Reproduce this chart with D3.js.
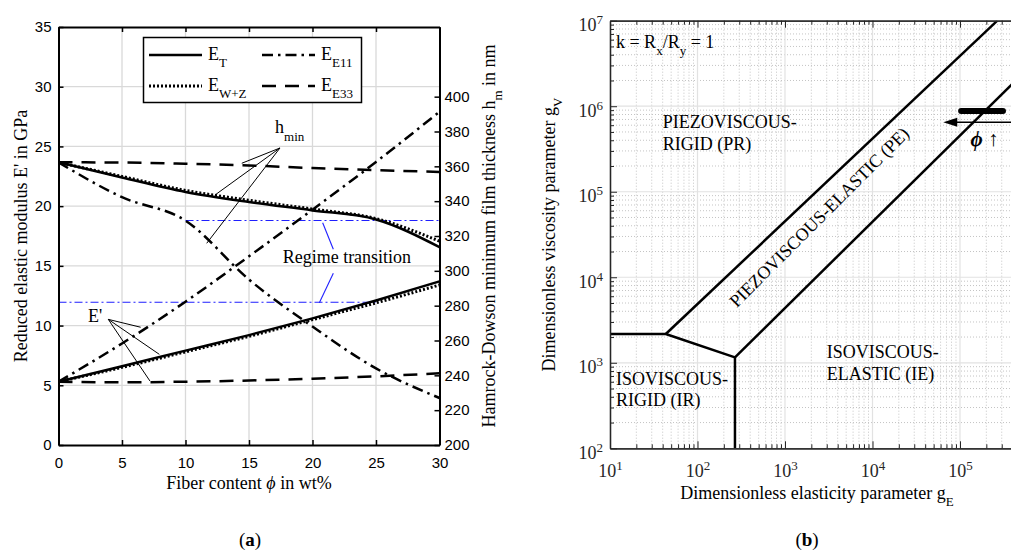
<!DOCTYPE html>
<html>
<head>
<meta charset="utf-8">
<script src="https://cdnjs.cloudflare.com/ajax/libs/d3/7.8.5/d3.min.js"></script>
<style>
  body { margin: 0; background: #fff; }
  svg { display: block; }
</style>
</head>
<body>
<div id="chart"></div>
<script>
// (a) film thickness / reduced modulus vs fiber content, (b) Hamrock-Dowson regime map
const W = 1011, H = 553;
const serif = '"Liberation Serif", "Times New Roman", serif';
const sans = '"Liberation Sans", Arial, sans-serif';

// ---- data (a) ----
const fiber = [0, 5, 10, 15, 20, 25, 30];            // wt%
// reduced elastic modulus E' in GPa (left axis)
const eT   = [5.3, 6.6, 7.9, 9.2, 10.6, 12.1, 13.7];
const eWZ  = [5.3, 6.5, 7.8, 9.1, 10.5, 11.9, 13.4];
const eE11 = [5.3, 8.5, 12.0, 15.8, 19.7, 23.7, 27.9];
const eE33 = [5.3, 5.25, 5.3, 5.4, 5.55, 5.75, 6.0];
// minimum film thickness h_min in nm (right axis)
const hT   = [362.3, 353.6, 345.3, 339.5, 334.7, 329.5, 313.6];
const hWZ  = [362.3, 354.2, 346.2, 340.5, 335.5, 330.0, 317.0];
const hE11 = [362.3, 342.3, 328.8, 295.0, 268.0, 244.0, 227.0];
const hE33 = [362.3, 362.2, 361.5, 360.5, 359.0, 357.8, 356.8];
// regime transition levels and the fiber range they span
const transE = 11.95, transERange = [0, 25];      // GPa
const transH = 328.9, transHRange = [10, 30];     // nm
const xTicksA = [0, 5, 10, 15, 20, 25, 30];
const yTicksA = [0, 5, 10, 15, 20, 25, 30, 35];
const yTicksH = [200, 220, 240, 260, 280, 300, 320, 340, 360, 380, 400];

// ---- data (b) ----
const xMajorB = [1e1, 1e2, 1e3, 1e4, 1e5];
const yMajorB = [1e2, 1e3, 1e4, 1e5, 1e6, 1e7];
const irGE = [10, 43.4, 268, 268];
const irGV = [2170, 2170, 1158, 100];
const prGE = [43.4, 2.67e5];
const prGV = [2170, 1e7];
const peGE = [268, 4.0e5];
const peGV = [1158, 1.84e6];
const opGE = [1.03e5, 3.1e5];   // operating range of the studied contacts
const opGV = 8.8e5;

const svg = d3.select("#chart").append("svg").attr("width", W).attr("height", H);

// ================= panel (a) =================
const ax = {left: 58.5, right: 439.5, top: 27, bottom: 445};
const xA = d3.scaleLinear().domain([0, 30]).range([ax.left, ax.right]);
const yA = d3.scaleLinear().domain([0, 35]).range([ax.bottom, ax.top]);
const yH = d3.scaleLinear().domain([200, 440]).range([ax.bottom, ax.top]);

const gridA = svg.append("g").attr("stroke", "#d9d9d9").attr("stroke-width", 1.3);
gridA.selectAll("line.v").data(xTicksA.slice(1, -1)).join("line").attr("class", "v")
  .attr("x1", d => xA(d)).attr("x2", d => xA(d)).attr("y1", ax.top).attr("y2", ax.bottom);
gridA.selectAll("line.h").data(yTicksA.slice(1, -1)).join("line").attr("class", "h")
  .attr("y1", d => yA(d)).attr("y2", d => yA(d)).attr("x1", ax.left).attr("x2", ax.right);

// regime transition (blue dash-dot)
const blue = svg.append("g").attr("stroke", "#1f1fff").attr("stroke-width", 1.1).attr("fill", "none");
blue.append("line").attr("x1", xA(transERange[0])).attr("x2", xA(transERange[1]))
  .attr("y1", yA(transE)).attr("y2", yA(transE)).attr("stroke-dasharray", "8 3 2 3");
blue.append("line").attr("x1", xA(transHRange[0])).attr("x2", xA(transHRange[1]))
  .attr("y1", yH(transH)).attr("y2", yH(transH)).attr("stroke-dasharray", "8 3 2 3");
const blueLeaders = [[[20.80, 18.61], [21.64, 16.39]], [[21.64, 14.38], [20.54, 11.92]]];
blue.selectAll("line.lead").data(blueLeaders).join("line").attr("class", "lead")
  .attr("x1", d => xA(d[0][0])).attr("y1", d => yA(d[0][1]))
  .attr("x2", d => xA(d[1][0])).attr("y2", d => yA(d[1][1]));

const models = [
  {sub: "T",   dash: null,            width: 2.5, e: eT,   h: hT},
  {sub: "W+Z", dash: "2 2",           width: 3,   e: eWZ,  h: hWZ},
  {sub: "E11", dash: "11 5 2.5 5",    width: 2.5, e: eE11, h: hE11},
  {sub: "E33", dash: "14 9",          width: 2.5, e: eE33, h: hE33}
];
const lineE = d3.line().x((d, i) => xA(fiber[i])).y(d => yA(d)).curve(d3.curveMonotoneX);
const lineH = d3.line().x((d, i) => xA(fiber[i])).y(d => yH(d)).curve(d3.curveMonotoneX);
const curves = svg.append("g").attr("fill", "none").attr("stroke", "#000");
[models[0], models[2], models[3], models[1]].forEach(m => {
  curves.append("path").attr("d", lineE(m.e)).attr("stroke-width", m.width)
    .attr("stroke-dasharray", m.dash);
  curves.append("path").attr("d", lineH(m.h)).attr("stroke-width", m.width)
    .attr("stroke-dasharray", m.dash);
});

// annotations with leader lines
const ann = svg.append("g");
const hminFrom = [17.44, 24.87], hminTo = [[14.43, 23.59], [12.32, 20.93], [11.67, 16.89]];
const eFrom = [3.92, 10.52], eTo = [[6.47, 9.86], [7.94, 7.59], [7.20, 5.36]];
[[hminFrom, hminTo], [eFrom, eTo]].forEach(([f, tos]) => {
  ann.selectAll(null).data(tos).join("line")
    .attr("x1", xA(f[0])).attr("y1", yA(f[1]))
    .attr("x2", d => xA(d[0])).attr("y2", d => yA(d[1]))
    .attr("stroke", "#000").attr("stroke-width", 1);
});
const hminTxt = ann.append("text").attr("x", xA(17.05)).attr("y", yA(26.12))
  .attr("font-family", serif).attr("font-size", 18);
hminTxt.append("tspan").text("h");
hminTxt.append("tspan").attr("dy", 8).attr("font-size", 13).text("min");
ann.append("text").attr("x", xA(2.32)).attr("y", yA(10.3))
  .attr("font-family", serif).attr("font-size", 18).text("E'");
ann.append("text").attr("x", xA(17.65)).attr("y", yA(15.21))
  .attr("font-family", serif).attr("font-size", 18).text("Regime transition");

// axes
function styleAxis(g, family, size) {
  g.attr("font-family", family).attr("font-size", size);
  g.select(".domain").attr("stroke", "#000").attr("stroke-width", 2);
  g.selectAll(".tick line").attr("stroke", "#000").attr("stroke-width", 1.5);
  g.selectAll(".tick text").attr("fill", "#000");
}
styleAxis(svg.append("g").attr("transform", `translate(0,${ax.bottom})`)
  .call(d3.axisBottom(xA).tickValues(xTicksA).tickSize(-5).tickSizeOuter(0).tickPadding(12)), sans, 15);
styleAxis(svg.append("g").attr("transform", `translate(0,${ax.top})`)
  .call(d3.axisTop(xA).tickValues(xTicksA).tickSize(-5).tickSizeOuter(0).tickFormat("")), sans, 15);
styleAxis(svg.append("g").attr("transform", `translate(${ax.left},0)`)
  .call(d3.axisLeft(yA).tickValues(yTicksA).tickSize(-5).tickSizeOuter(0).tickPadding(7)), sans, 15);
styleAxis(svg.append("g").attr("transform", `translate(${ax.right},0)`)
  .call(d3.axisRight(yH).tickValues(yTicksH).tickSize(-5).tickSizeOuter(0).tickPadding(5)), sans, 15);

// legend
const leg = svg.append("g");
leg.append("rect").attr("x", 143.5).attr("y", 37.5).attr("width", 218).attr("height", 65)
  .attr("fill", "#fff").attr("stroke", "#000").attr("stroke-width", 1.5);
const legPos = [[149, 55], [149, 86], [262, 55], [262, 86]];
models.forEach((m, i) => {
  const [lx, ly] = legPos[i];
  leg.append("line").attr("x1", lx).attr("x2", lx + 53).attr("y1", ly).attr("y2", ly)
    .attr("stroke", "#000").attr("stroke-width", m.width).attr("stroke-dasharray", m.dash);
  const t = leg.append("text").attr("x", lx + 59).attr("y", ly + 5)
    .attr("font-family", serif).attr("font-size", 18);
  t.append("tspan").text("E");
  t.append("tspan").attr("dy", 7).attr("font-size", 13).text(m.sub);
});

// axis titles
const xt = svg.append("text").attr("x", (ax.left + ax.right) / 2).attr("y", 489)
  .attr("text-anchor", "middle").attr("font-family", serif).attr("font-size", 18);
xt.append("tspan").text("Fiber content ");
xt.append("tspan").attr("font-style", "italic").text("ϕ");
xt.append("tspan").text(" in wt%");
svg.append("text").attr("transform", `translate(27,${(ax.top + ax.bottom) / 2}) rotate(-90)`)
  .attr("text-anchor", "middle").attr("font-family", serif).attr("font-size", 18)
  .text("Reduced elastic modulus E' in GPa");
const rt = svg.append("text").attr("transform", `translate(495,${(ax.top + ax.bottom) / 2}) rotate(-90)`)
  .attr("text-anchor", "middle").attr("font-family", serif).attr("font-size", 18);
rt.append("tspan").text("Hamrock-Dowson minimum film thickness h");
rt.append("tspan").attr("dy", 7).attr("font-size", 13).text("m");
rt.append("tspan").attr("dy", -7).text(" in nm");

// ================= panel (b) =================
const bx = {left: 610, right: 1012.5, top: 20.7, bottom: 448.3};
const xB = d3.scaleLog().domain([10, Math.pow(10, 5.6)]).range([bx.left, bx.right]);
const yB = d3.scaleLog().domain([100, 1e7]).range([bx.bottom, bx.top]);
const minorOf = (majors, dom) => majors.flatMap(m => d3.range(2, 10).map(k => k * m))
  .concat(d3.range(2, 10).map(k => k * majors[majors.length - 1] * 10))
  .filter(v => v > dom[0] && v < dom[1]);
const xMinorB = minorOf(xMajorB, xB.domain());
const yMinorB = minorOf(yMajorB, yB.domain());

const clip = svg.append("clipPath").attr("id", "clipB").append("rect")
  .attr("x", bx.left).attr("y", bx.top).attr("width", bx.right - bx.left).attr("height", bx.bottom - bx.top);
const gridB = svg.append("g");
gridB.selectAll("line.xm").data(xMinorB).join("line").attr("class", "xm")
  .attr("x1", d => xB(d)).attr("x2", d => xB(d)).attr("y1", bx.top).attr("y2", bx.bottom)
  .attr("stroke", "#c4c4c4").attr("stroke-width", 1).attr("stroke-dasharray", "1 2");
gridB.selectAll("line.ym").data(yMinorB).join("line").attr("class", "ym")
  .attr("y1", d => yB(d)).attr("y2", d => yB(d)).attr("x1", bx.left).attr("x2", bx.right)
  .attr("stroke", "#c4c4c4").attr("stroke-width", 1).attr("stroke-dasharray", "1 2");
gridB.selectAll("line.xM").data(xMajorB.slice(1)).join("line").attr("class", "xM")
  .attr("x1", d => xB(d)).attr("x2", d => xB(d)).attr("y1", bx.top).attr("y2", bx.bottom)
  .attr("stroke", "#e2e2e2").attr("stroke-width", 1.2);
gridB.selectAll("line.yM").data(yMajorB.slice(1, -1)).join("line").attr("class", "yM")
  .attr("y1", d => yB(d)).attr("y2", d => yB(d)).attr("x1", bx.left).attr("x2", bx.right)
  .attr("stroke", "#e2e2e2").attr("stroke-width", 1.2);

const lineB = d3.line().x(d => xB(d[0])).y(d => yB(d[1]));
const regimes = svg.append("g").attr("clip-path", "url(#clipB)").attr("fill", "none")
  .attr("stroke", "#000").attr("stroke-width", 2.5).attr("stroke-linejoin", "round");
[[irGE, irGV], [prGE, prGV], [peGE, peGV]].forEach(([ge, gv]) => {
  regimes.append("path").attr("d", lineB(d3.zip(ge, gv)));
});
regimes.append("path").attr("d", lineB([[opGE[0], opGV], [opGE[1], opGV]]))
  .attr("stroke-width", 6).attr("stroke-linecap", "round");
// arrow: increasing fiber content moves to lower g_E
const arrowTip = [6.44e4, 6.5e5];
regimes.append("line").attr("x1", xB(Math.pow(10, 5.6))).attr("x2", xB(arrowTip[0]) + 12)
  .attr("y1", yB(arrowTip[1])).attr("y2", yB(arrowTip[1])).attr("stroke-width", 1.5);
regimes.append("path")
  .attr("d", `M${xB(arrowTip[0])},${yB(arrowTip[1])} l14,-4.5 l0,9 Z`)
  .attr("fill", "#000").attr("stroke", "none");

// region labels
const labB = svg.append("g").attr("font-family", serif).attr("font-size", 18).attr("fill", "#000");
function twoLine(gE, gV, l1, l2) {
  const t = labB.append("text").attr("x", xB(gE)).attr("y", yB(gV));
  t.append("tspan").text(l1);
  t.append("tspan").attr("x", xB(gE)).attr("dy", "1.2em").text(l2);
}
twoLine(40, 5.52e5, "PIEZOVISCOUS-", "RIGID (PR)");
twoLine(11.7, 555, "ISOVISCOUS-", "RIGID (IR)");
twoLine(3000, 1128, "ISOVISCOUS-", "ELASTIC (IE)");
labB.append("text").attr("transform", `translate(${xB(2449)},${yB(5.07e4)}) rotate(-45)`)
  .attr("text-anchor", "middle").attr("dy", "0.35em").text("PIEZOVISCOUS-ELASTIC (PE)");
const kt = labB.append("text").attr("x", xB(11.7)).attr("y", yB(4.8e6));
kt.append("tspan").text("k = R");
kt.append("tspan").attr("dy", 7).attr("font-size", 13).text("x");
kt.append("tspan").attr("dy", -7).text("/R");
kt.append("tspan").attr("dy", 7).attr("font-size", 13).text("y");
kt.append("tspan").attr("dy", -7).text(" = 1");
const pt = labB.append("text").attr("x", xB(1.32e5)).attr("y", yB(3.43e5)).attr("font-size", 21);
pt.append("tspan").attr("font-style", "italic").attr("font-weight", "bold").text("ϕ");
pt.append("tspan").text(" ↑");

// axes (b)
function styleAxisB(g) {
  g.attr("font-family", serif).attr("font-size", 18);
  g.select(".domain").attr("stroke", "#262626").attr("stroke-width", 1.3);
  g.selectAll(".tick line").attr("stroke", "#262626").attr("stroke-width", 1);
  g.selectAll(".tick text").attr("fill", "#262626");
}
function powerLabel(g) {
  g.selectAll(".tick text").each(function (d) {
    const t = d3.select(this);
    t.text("10");
    t.append("tspan").attr("dy", -7).attr("font-size", 13).text(Math.round(Math.log10(d)));
  });
}
const xAxisB = svg.append("g").attr("transform", `translate(0,${bx.bottom})`)
  .call(d3.axisBottom(xB).tickValues(xMajorB).tickSize(-7).tickSizeOuter(0).tickPadding(0));
xAxisB.selectAll(".tick text").attr("dy", null).attr("y", 28.5);
powerLabel(xAxisB); styleAxisB(xAxisB);
const xAxisBm = svg.append("g").attr("transform", `translate(0,${bx.bottom})`)
  .call(d3.axisBottom(xB).tickValues(xMinorB).tickSize(-4).tickSizeOuter(0).tickFormat(""));
styleAxisB(xAxisBm);
const xTopB = svg.append("g").attr("transform", `translate(0,${bx.top})`)
  .call(d3.axisTop(xB).tickValues(xMajorB).tickSize(-7).tickSizeOuter(0).tickFormat(""));
styleAxisB(xTopB);
styleAxisB(svg.append("g").attr("transform", `translate(0,${bx.top})`)
  .call(d3.axisTop(xB).tickValues(xMinorB).tickSize(-4).tickSizeOuter(0).tickFormat("")));
const yAxisB = svg.append("g").attr("transform", `translate(${bx.left},0)`)
  .call(d3.axisLeft(yB).tickValues(yMajorB).tickSize(-7).tickSizeOuter(0).tickPadding(7));
yAxisB.selectAll(".tick text").attr("dy", "0.55em");
powerLabel(yAxisB); styleAxisB(yAxisB);
styleAxisB(svg.append("g").attr("transform", `translate(${bx.left},0)`)
  .call(d3.axisLeft(yB).tickValues(yMinorB).tickSize(-4).tickSizeOuter(0).tickFormat("")));

const xtb = svg.append("text").attr("x", 817).attr("y", 499).attr("text-anchor", "middle")
  .attr("font-family", serif).attr("font-size", 18);
xtb.append("tspan").text("Dimensionless elasticity parameter g");
xtb.append("tspan").attr("dy", 7).attr("font-size", 13).text("E");
const ytb = svg.append("text").attr("transform", `translate(555,${(bx.top + bx.bottom) / 2}) rotate(-90)`)
  .attr("text-anchor", "middle").attr("font-family", serif).attr("font-size", 18);
ytb.append("tspan").text("Dimensionless viscosity parameter g");
ytb.append("tspan").attr("dy", 7).attr("font-size", 13).text("V");

// panel letters
[["(a)", 250], ["(b)", 807]].forEach(([s, x]) => {
  const t = svg.append("text").attr("x", x).attr("y", 546).attr("text-anchor", "middle")
    .attr("font-family", serif).attr("font-size", 19);
  t.append("tspan").text("(");
  t.append("tspan").attr("font-weight", "bold").text(s.slice(1, 2));
  t.append("tspan").text(")");
});
</script>
</body>
</html>
